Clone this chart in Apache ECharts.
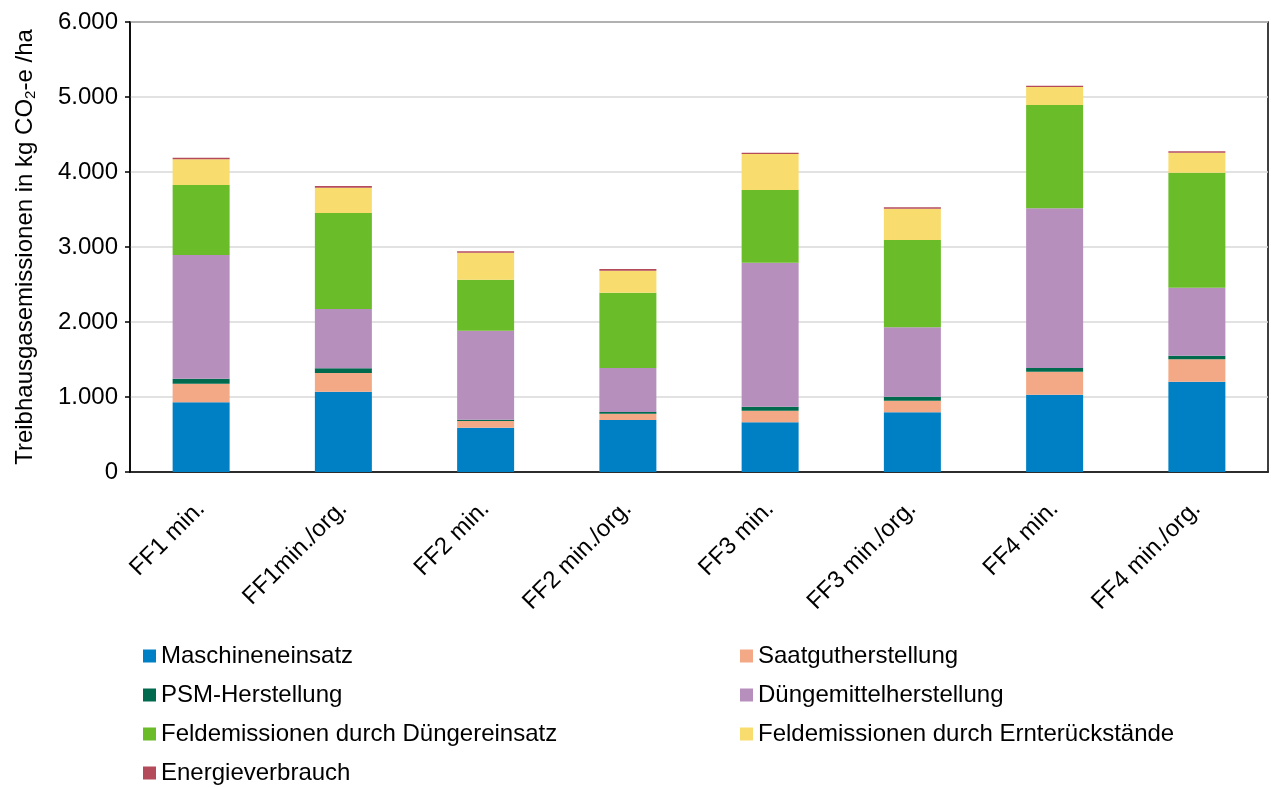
<!DOCTYPE html>
<html>
<head>
<meta charset="utf-8">
<script src="https://cdn.jsdelivr.net/npm/echarts@6/dist/echarts.min.js"></script>
<style>
html,body{margin:0;padding:0;background:#fff;}
#chart{width:1271px;height:787px;}
</style>
</head>
<body>
<div id="chart"></div>
<script>
const categories = ['FF1 min.', 'FF1min./org.', 'FF2 min.', 'FF2 min./org.', 'FF3 min.', 'FF3 min./org.', 'FF4 min.', 'FF4 min./org.'];
const maschineneinsatz = [929, 1071, 591, 693, 662, 796, 1031, 1204];
const saatgutherstellung = [248, 249, 89, 85, 156, 155, 307, 298];
const psmHerstellung = [67, 62, 18, 22, 53, 53, 49, 49];
const duengemittelherstellung = [1649, 791, 1186, 587, 1920, 925, 2129, 907];
const feldDuengereinsatz = [934, 1280, 680, 1004, 969, 1164, 1377, 1533];
const feldErnterueckstaende = [342, 338, 360, 293, 480, 418, 240, 267];
const energieverbrauch = [22, 22, 18, 23, 18, 18, 18, 18];
const yTicks = [0, 1000, 2000, 3000, 4000, 5000, 6000];

const seriesDefs = [
  ['Maschineneinsatz', maschineneinsatz, '#0080c4'],
  ['Saatgutherstellung', saatgutherstellung, '#f3a886'],
  ['PSM-Herstellung', psmHerstellung, '#006a4e'],
  ['Düngemittelherstellung', duengemittelherstellung, '#b68fbd'],
  ['Feldemissionen durch Düngereinsatz', feldDuengereinsatz, '#6abd28'],
  ['Feldemissionen durch Ernterückstände', feldErnterueckstaende, '#f8dc6e'],
  ['Energieverbrauch', energieverbrauch, '#b34b5b']
];

const FONT = 'Liberation Sans, Arial, sans-serif';
const chart = echarts.init(document.getElementById('chart'), null, {renderer: 'canvas'});

const legendCommon = {
  orient: 'vertical',
  top: 639,
  height: 160,
  itemWidth: 13,
  itemHeight: 13,
  itemGap: 15,
  icon: 'rect',
  textStyle: {fontFamily: FONT, fontSize: 24, lineHeight: 24, color: '#000'}
};

chart.setOption({
  animation: false,
  backgroundColor: '#fff',
  grid: {left: 130, right: 3, top: 22, bottom: 315, show: true, borderColor: '#000', borderWidth: 1.5, backgroundColor: 'transparent'},
  legend: [
    Object.assign({}, legendCommon, {left: 138, data: ['Maschineneinsatz', 'PSM-Herstellung', 'Feldemissionen durch Düngereinsatz', 'Energieverbrauch']}),
    Object.assign({}, legendCommon, {left: 735, data: ['Saatgutherstellung', 'Düngemittelherstellung', 'Feldemissionen durch Ernterückstände']})
  ],
  xAxis: {
    type: 'category',
    data: categories,
    axisLine: {lineStyle: {color: '#000', width: 1.5}},
    axisTick: {show: false},
    axisLabel: {rotate: 45, margin: 33, fontFamily: FONT, fontSize: 24, color: '#000'}
  },
  yAxis: {
    type: 'value',
    min: yTicks[0],
    max: yTicks[yTicks.length - 1],
    interval: 1000,
    name: 'Treibhausgasemissionen in kg CO{sub|2}-e /ha',
    nameLocation: 'middle',
    nameGap: 92,
    nameTextStyle: {
      fontFamily: FONT, fontSize: 24, color: '#000',
      rich: {sub: {fontFamily: FONT, fontSize: 15, color: '#000', verticalAlign: 'bottom', padding: [10, 0, 0, 0]}}
    },
    axisLine: {show: true, lineStyle: {color: '#000', width: 1.5}},
    axisTick: {show: true, length: 5, lineStyle: {color: '#000', width: 1.5}},
    axisLabel: {
      margin: 12, fontFamily: FONT, fontSize: 24, color: '#000',
      formatter: v => v === 0 ? '0' : String(v).replace(/\B(?=(\d{3})+(?!\d))/g, '.')
    },
    splitLine: {lineStyle: {color: '#d9d9d9', width: 1.5}}
  },
  series: seriesDefs.map(([name, data, color]) => ({
    name, type: 'bar', stack: 'total', data, barWidth: 57,
    itemStyle: {color}
  }))
});
</script>
</body>
</html>
